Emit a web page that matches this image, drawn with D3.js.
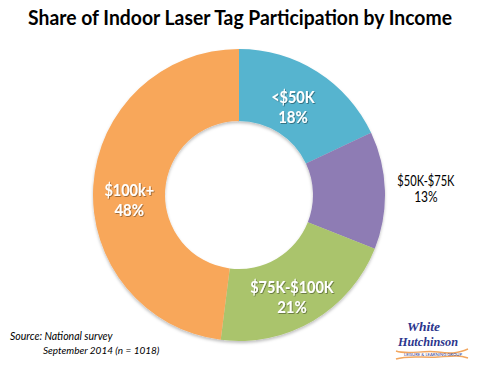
<!DOCTYPE html>
<html>
<head>
<meta charset="utf-8">
<script src="https://cdn.jsdelivr.net/npm/d3@7"></script>
<style>
  html, body { margin: 0; padding: 0; background: #fff; }
  svg { display: block; font-family: Lato, 'Open Sans', sans-serif; }
</style>
</head>
<body>
<svg id="chart" width="480" height="368"></svg>
<script>
const categories = ['<$50K', '$50K-$75K', '$75K-$100K', '$100k+']
const shares = [18, 13, 21, 48]
const colors = ['#56b4cf', '#8e7cb4', '#aac46c', '#f8a75a']
const insideLabel = [true, false, true, true]

const title = 'Share of Indoor Laser Tag Participation by Income'
const sourceLines = ['Source: National survey', 'September 2014 (n = 1018)']

const width = 480
const height = 368
const cx = 239
const cy = 195
const outerR = 146
const innerR = 74

const svg = d3.select('#chart')

// filters: soft ring shadow + text shadow
const defs = svg.append('defs')
const ringShadow = defs.append('filter').attr('id', 'ringShadow')
  .attr('x', '-10%').attr('y', '-10%').attr('width', '120%').attr('height', '125%')
ringShadow.append('feDropShadow')
  .attr('dx', 0).attr('dy', 2).attr('stdDeviation', 1.5)
  .attr('flood-color', '#000').attr('flood-opacity', 0.25)
const textShadow = defs.append('filter').attr('id', 'textShadow')
textShadow.append('feDropShadow')
  .attr('dx', 0.8).attr('dy', 0.8).attr('stdDeviation', 0.6)
  .attr('flood-color', '#000').attr('flood-opacity', 0.45)

svg.append('text')
  .attr('x', width / 2)
  .attr('y', 25)
  .attr('text-anchor', 'middle')
  .attr('font-size', 20)
  .attr('font-weight', 'bold')
  .attr('fill', '#000')
  .attr('textLength', 424)
  .attr('lengthAdjust', 'spacingAndGlyphs')
  .text(title)

const data = categories.map((c, i) => ({ label: c, value: shares[i], color: colors[i], inside: insideLabel[i] }))

const pie = d3.pie().sort(null).value(d => d.value)
const arc = d3.arc().innerRadius(innerR).outerRadius(outerR)
const arcs = pie(data)

const g = svg.append('g').attr('transform', `translate(${cx},${cy})`)

g.append('g')
  .attr('filter', 'url(#ringShadow)')
  .selectAll('path')
  .data(arcs)
  .join('path')
  .attr('d', arc)
  .attr('fill', d => d.data.color)

// label nudges (px) so the text sits where the original chart put it
const nudge = [[-5, 5], [-3, 0], [-3, 7], [0, 12]]
const outerLabelArc = d3.arc().innerRadius(190).outerRadius(190)

// narrow the glyphs a bit (original uses a condensed face)
function squeeze (sel, k) {
  sel.each(function () {
    const w = this.getComputedTextLength()
    d3.select(this).attr('textLength', w * k).attr('lengthAdjust', 'spacingAndGlyphs')
  })
}

arcs.forEach((a, i) => {
  const inside = a.data.inside
  const [x0, y] = inside ? arc.centroid(a) : outerLabelArc.centroid(a)
  const x = x0 + nudge[i][0]
  const t = g.append('text')
    .attr('y', y + nudge[i][1])
    .attr('text-anchor', 'middle')
    .attr('font-size', inside ? 17 : 15)
    .attr('font-weight', inside ? 'bold' : 'normal')
    .attr('fill', inside ? '#fff' : '#000')
  if (inside) t.attr('filter', 'url(#textShadow)')
  const lh = inside ? 20 : 16.5
  const l1 = t.append('tspan').attr('x', x).attr('dy', -lh / 2 + (inside ? 6 : 5)).text(a.data.label)
  const l2 = t.append('tspan').attr('x', x).attr('dy', lh).text(a.data.value + '%')
  squeeze(l1, inside ? 0.85 : 0.74)
  squeeze(l2, inside ? 0.88 : 0.8)
})

// source note
const src = svg.append('text')
  .attr('font-style', 'italic')
  .attr('fill', '#000')
src.append('tspan').attr('x', 10).attr('y', 340).attr('font-size', 10.5).text(sourceLines[0])
src.append('tspan').attr('x', 43).attr('y', 354).attr('font-size', 10).text(sourceLines[1])

// logo
const logo = svg.append('g').attr('transform', 'translate(398,319)')
logo.append('text')
  .attr('x', 9).attr('y', 12)
  .attr('font-family', "'Liberation Serif', serif")
  .attr('font-style', 'italic').attr('font-weight', 'bold')
  .attr('font-size', 12).attr('fill', '#2b358c')
  .attr('textLength', 33).attr('lengthAdjust', 'spacingAndGlyphs')
  .text('White')
logo.append('text')
  .attr('x', 0).attr('y', 27)
  .attr('font-family', "'Liberation Serif', serif")
  .attr('font-style', 'italic').attr('font-weight', 'bold')
  .attr('font-size', 12).attr('fill', '#2b358c')
  .attr('textLength', 60).attr('lengthAdjust', 'spacingAndGlyphs')
  .text('Hutchinson')
logo.append('path')
  .attr('d', 'M-2,32 C10,36 25,31 40,33 S60,34 70,30')
  .attr('fill', 'none').attr('stroke', '#f2a65e').attr('stroke-width', 1.4)
logo.append('path')
  .attr('d', 'M-2,40 C10,36 25,39 40,38 S60,36 70,39')
  .attr('fill', 'none').attr('stroke', '#f2a65e').attr('stroke-width', 1.4)
logo.append('text')
  .attr('x', 6).attr('y', 37.2)
  .attr('font-size', 3.2).attr('fill', '#2b358c')
  .attr('textLength', 58).attr('lengthAdjust', 'spacingAndGlyphs')
  .text('LEISURE & LEARNING GROUP')
</script>
</body>
</html>
